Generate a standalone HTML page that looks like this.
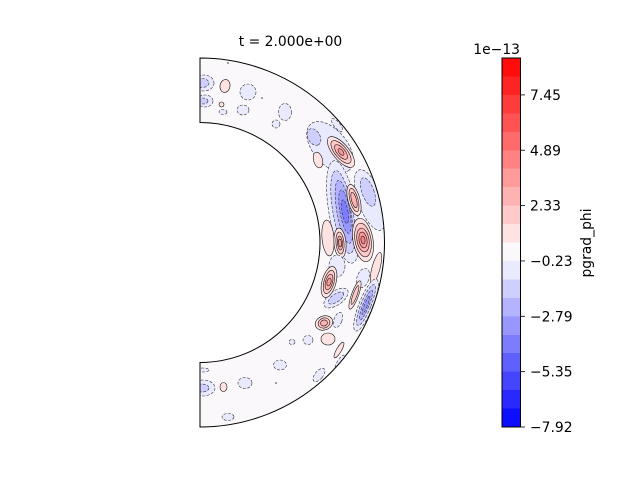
<!DOCTYPE html>
<html><head><meta charset="utf-8"><style>
html,body{margin:0;padding:0;background:#fff;}
svg{display:block;}
text{font-family:"DejaVu Sans","Liberation Sans",sans-serif;font-size:13.9px;fill:#000;}
.b8{fill:#eaeaff}.b7{fill:#ceceff}.b6{fill:#b3b3ff}.b5{fill:#9797ff}.b4{fill:#7c7cff}
.r10{fill:#ffe2e2}.r11{fill:#ffcaca}.r12{fill:#ffb2b2}.r13{fill:#ff9b9b}.r14{fill:#ff8383}
.n ellipse{stroke:#333;stroke-width:.6;stroke-dasharray:3 1.5}
.p ellipse{stroke:#111;stroke-width:.6}
</style></head><body>
<svg width="640" height="480" viewBox="0 0 640 480" xmlns="http://www.w3.org/2000/svg">
<defs>
<clipPath id="ann"><path d="M200,58 A184.5,184.5 0 0 1 200,427 L200,362.5 A120,120 0 0 0 200,122.5 Z"/></clipPath>
</defs>
<rect width="640" height="480" fill="#fff"/>
<text x="290.5" y="46" text-anchor="middle">t = 2.000e+00</text>

<g clip-path="url(#ann)">
<path d="M200,58 A184.5,184.5 0 0 1 200,427 L200,362.5 A120,120 0 0 0 200,122.5 Z" fill="#faf8fa"/>

<!-- top region -->
<g class="n"><ellipse cx="204" cy="83" rx="10" ry="8" class="b8"/><ellipse cx="202" cy="83" rx="7" ry="4.5" class="b7"/></g>
<g class="n"><ellipse cx="205" cy="101" rx="8" ry="6" class="b8"/><ellipse cx="203" cy="101" rx="5" ry="3" class="b7"/></g>
<g class="p"><ellipse cx="225" cy="86" rx="5" ry="6.5" class="r10" transform="rotate(10 225 86)"/></g>
<g class="n"><ellipse cx="248" cy="92" rx="8" ry="8" class="b8"/></g>
<g class="p"><ellipse cx="221.5" cy="104.5" rx="2.5" ry="2.5" class="r10"/></g>
<g class="n"><ellipse cx="223" cy="112" rx="4" ry="2.5" class="b8"/></g>
<g class="n"><ellipse cx="243" cy="110" rx="6" ry="5" class="b8"/></g>
<g class="n"><ellipse cx="285" cy="112" rx="6.5" ry="8.5" class="b8"/></g>
<g class="n"><ellipse cx="276" cy="124" rx="4" ry="4" class="b8"/></g>
<g class="n" transform="translate(337,125) rotate(50)"><ellipse rx="8" ry="3" class="b8"/></g>

<!-- upper cluster -->
<g class="n" transform="translate(330,147) rotate(50)"><ellipse rx="30" ry="17" class="b8"/></g>
<g class="n" transform="translate(314,137) rotate(60)"><ellipse rx="9" ry="6" class="b7"/></g>
<g class="p" transform="translate(341,152) rotate(50)">
<ellipse rx="19" ry="8" class="r10"/><ellipse rx="14" ry="6" class="r11"/><ellipse rx="9" ry="4" class="r12"/><ellipse rx="4" ry="2" class="r13"/></g>
<g class="p" transform="translate(318,160) rotate(75)"><ellipse rx="8" ry="4.5" class="r10"/></g>

<!-- long blue band -->
<g class="n" transform="translate(370,200) rotate(-20)"><ellipse rx="12" ry="32" class="b8"/></g>
<g class="n" transform="translate(343,212) rotate(-10)">
<ellipse rx="14" ry="52" class="b8"/><ellipse rx="10" ry="42" class="b7"/><ellipse cx="1" rx="7" ry="32" class="b6"/><ellipse cx="2" rx="5" ry="22" class="b5"/><ellipse cx="2" rx="3" ry="12" class="b4"/></g>
<g class="n" transform="translate(368,192) rotate(-20)"><ellipse rx="6" ry="15" class="b7"/></g>
<g class="p" transform="translate(354,200) rotate(-15)"><ellipse rx="6" ry="16" class="r10"/><ellipse rx="4" ry="12" class="r11"/><ellipse rx="2.5" ry="8" class="r12"/></g>
<g class="p" transform="translate(328,238) rotate(-5)"><ellipse rx="6" ry="18" class="r10"/></g>
<g class="p" transform="translate(340,243) rotate(-5)"><ellipse rx="6" ry="15" class="r10"/><ellipse rx="4" ry="11" class="r11"/><ellipse rx="2.5" ry="7" class="r12"/><ellipse rx="1.5" ry="4" class="r13"/></g>
<g class="p" transform="translate(363,240) rotate(-10)"><ellipse rx="10" ry="22" class="r10"/><ellipse rx="8" ry="17" class="r11"/><ellipse rx="6" ry="12" class="r12"/><ellipse rx="4" ry="8" class="r13"/><ellipse rx="2" ry="4" class="r14"/></g>
<g class="p" transform="translate(376,268) rotate(15)"><ellipse rx="4" ry="16" class="r10"/></g>

<!-- lower cluster -->
<g class="n" transform="translate(363,278) rotate(20)"><ellipse rx="6" ry="10" class="b8"/></g>
<g class="n" transform="translate(337,266)"><ellipse rx="8" ry="11" class="b8"/></g>
<g class="n" transform="translate(336,298) rotate(-35)"><ellipse rx="14" ry="7" class="b8"/><ellipse rx="9" ry="4" class="b7"/></g>
<g class="p" transform="translate(329,282) rotate(15)"><ellipse rx="7" ry="16" class="r10"/><ellipse rx="5" ry="12" class="r11"/><ellipse rx="3.5" ry="8" class="r12"/><ellipse rx="2" ry="4" class="r13"/></g>
<g class="p" transform="translate(355,295) rotate(20)"><ellipse rx="3.5" ry="15" class="r10"/><ellipse rx="2" ry="10" class="r11"/></g>
<g class="n" transform="translate(366,305) rotate(22)"><ellipse rx="7" ry="28" class="b8"/><ellipse rx="5" ry="22" class="b7"/><ellipse rx="3" ry="16" class="b6"/><ellipse rx="1.5" ry="10" class="b5"/></g>
<g class="n" transform="translate(338,320) rotate(20)"><ellipse rx="4" ry="8" class="b8"/></g>
<g class="p" transform="translate(324,323) rotate(-20)"><ellipse rx="9" ry="7" class="r10"/><ellipse rx="6" ry="5" class="r11"/><ellipse rx="3.5" ry="3" class="r12"/></g>
<g class="p" transform="translate(328,339)"><ellipse rx="7" ry="6" class="r10"/></g>
<g class="p" transform="translate(339,350) rotate(30)"><ellipse rx="2.5" ry="9" class="r10"/></g>
<g class="n"><ellipse cx="308" cy="340" rx="5" ry="4.5" class="b8"/></g>
<g class="n"><ellipse cx="292" cy="342" rx="3" ry="2.5" class="b8"/></g>
<g class="n" transform="translate(340,363) rotate(30)"><ellipse rx="3" ry="9" class="b8"/></g>
<g class="n" transform="translate(319,375) rotate(40)"><ellipse rx="4" ry="8" class="b8"/></g>
<g class="n"><ellipse cx="280" cy="365" rx="6.5" ry="5" class="b8"/></g>
<g class="n"><ellipse cx="245" cy="383" rx="7" ry="5.5" class="b8"/></g>
<g class="p"><ellipse cx="223.5" cy="387" rx="3.5" ry="4.5" class="r10"/></g>
<g class="n"><ellipse cx="203" cy="388" rx="12" ry="8" class="b8"/><ellipse cx="202" cy="388" rx="7" ry="4" class="b7"/></g>
<g class="n"><ellipse cx="203" cy="370" rx="6" ry="2" class="b8"/></g>
<g class="n"><ellipse cx="228" cy="417" rx="6" ry="3.5" class="b8"/></g>
<circle cx="276" cy="383" r="0.8" fill="#333"/>
<circle cx="262" cy="98" r="0.8" fill="#333"/>
<circle cx="228" cy="63" r="0.8" fill="#333"/>
</g>
<path d="M200,58 A184.5,184.5 0 0 1 200,427 L200,362.5 A120,120 0 0 0 200,122.5 Z" fill="none" stroke="#000" stroke-width="1"/>

<!-- colorbar -->
<g shape-rendering="crispEdges">
<rect x="502" y="58" width="18" height="18.6" fill="#ff0c0c"/>
<rect x="502" y="76.45" width="18" height="18.6" fill="#ff2424"/>
<rect x="502" y="94.9" width="18" height="18.6" fill="#ff3c3c"/>
<rect x="502" y="113.35" width="18" height="18.6" fill="#ff5353"/>
<rect x="502" y="131.8" width="18" height="18.6" fill="#ff6b6b"/>
<rect x="502" y="150.25" width="18" height="18.6" fill="#ff8383"/>
<rect x="502" y="168.7" width="18" height="18.6" fill="#ff9b9b"/>
<rect x="502" y="187.15" width="18" height="18.6" fill="#ffb2b2"/>
<rect x="502" y="205.6" width="18" height="18.6" fill="#ffcaca"/>
<rect x="502" y="224.05" width="18" height="18.6" fill="#ffe2e2"/>
<rect x="502" y="242.5" width="18" height="18.6" fill="#faf8fa"/>
<rect x="502" y="260.95" width="18" height="18.6" fill="#eaeaff"/>
<rect x="502" y="279.4" width="18" height="18.6" fill="#ceceff"/>
<rect x="502" y="297.85" width="18" height="18.6" fill="#b3b3ff"/>
<rect x="502" y="316.3" width="18" height="18.6" fill="#9797ff"/>
<rect x="502" y="334.75" width="18" height="18.6" fill="#7c7cff"/>
<rect x="502" y="353.2" width="18" height="18.6" fill="#6060ff"/>
<rect x="502" y="371.65" width="18" height="18.6" fill="#4545ff"/>
<rect x="502" y="390.1" width="18" height="18.6" fill="#2929ff"/>
<rect x="502" y="408.55" width="18" height="18.45" fill="#0e0eff"/>
</g>
<rect x="502" y="58" width="18.5" height="369" fill="none" stroke="#000" stroke-width="1"/>
<g stroke="#000" stroke-width="0.8">
<line x1="520.5" y1="94.9" x2="525" y2="94.9"/>
<line x1="520.5" y1="150.25" x2="525" y2="150.25"/>
<line x1="520.5" y1="205.6" x2="525" y2="205.6"/>
<line x1="520.5" y1="260.95" x2="525" y2="260.95"/>
<line x1="520.5" y1="316.3" x2="525" y2="316.3"/>
<line x1="520.5" y1="371.65" x2="525" y2="371.65"/>
<line x1="520.5" y1="427" x2="525" y2="427"/>
</g>
<text x="530" y="100">7.45</text>
<text x="530" y="155.3">4.89</text>
<text x="530" y="210.6">2.33</text>
<text x="530" y="266">−0.23</text>
<text x="530" y="321.3">−2.79</text>
<text x="530" y="376.7">−5.35</text>
<text x="530" y="432">−7.92</text>
<text x="520" y="54" text-anchor="end">1e−13</text>
<text transform="translate(591,243) rotate(-90)" text-anchor="middle">pgrad_phi</text>
</svg>
</body></html>
